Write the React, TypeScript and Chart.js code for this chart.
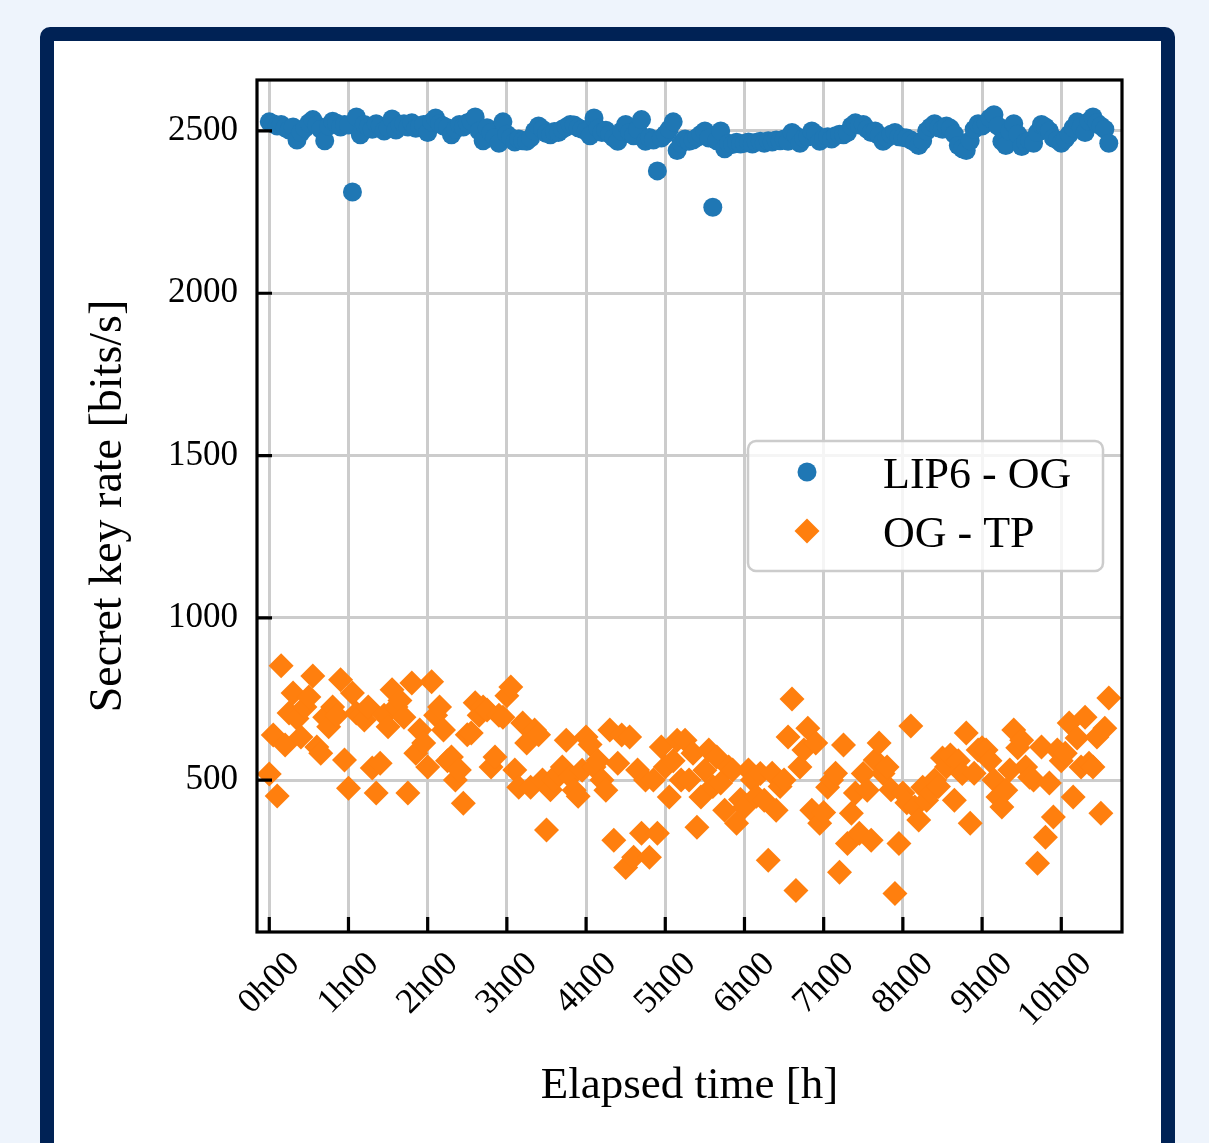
import React, { useEffect, useRef } from 'react';
import { Chart, registerables } from 'chart.js';

Chart.register(...registerables);

// Elapsed time of each measurement, in minutes
const timeMinutes = [
  0, 3, 6, 9, 12, 15, 18, 21, 24, 27, 30, 33, 36, 39, 42, 45, 48, 51, 54, 57,
  60, 63, 66, 69, 72, 75, 78, 81, 84, 87, 90, 93, 96, 99, 102, 105, 108, 111, 114, 117,
  120, 123, 126, 129, 132, 135, 138, 141, 144, 147, 150, 153, 156, 159, 162, 165, 168, 171, 174, 177,
  180, 183, 186, 189, 192, 195, 198, 201, 204, 207, 210, 213, 216, 219, 222, 225, 228, 231, 234, 237,
  240, 243, 246, 249, 252, 255, 258, 261, 264, 267, 270, 273, 276, 279, 282, 285, 288, 291, 294, 297,
  300, 303, 306, 309, 312, 315, 318, 321, 324, 327, 330, 333, 336, 339, 342, 345, 348, 351, 354, 357,
  360, 363, 366, 369, 372, 375, 378, 381, 384, 387, 390, 393, 396, 399, 402, 405, 408, 411, 414, 417,
  420, 423, 426, 429, 432, 435, 438, 441, 444, 447, 450, 453, 456, 459, 462, 465, 468, 471, 474, 477,
  480, 483, 486, 489, 492, 495, 498, 501, 504, 507, 510, 513, 516, 519, 522, 525, 528, 531, 534, 537,
  540, 543, 546, 549, 552, 555, 558, 561, 564, 567, 570, 573, 576, 579, 582, 585, 588, 591, 594, 597,
  600, 603, 606, 609, 612, 615, 618, 621, 624, 627, 630, 633, 636,
];

// Secret key rate LIP6 - OG [bits/s]
const lip6Og = [
  2528, 2522, 2515, 2520, 2510, 2503, 2512, 2472, 2495, 2508, 2525, 2535, 2518, 2505, 2470, 2515, 2530, 2524, 2512, 2520,
  2518, 2312, 2543, 2488, 2520, 2512, 2505, 2522, 2515, 2500, 2510, 2537, 2503, 2518, 2522, 2512, 2525, 2508, 2515, 2520,
  2495, 2528, 2540, 2522, 2515, 2510, 2488, 2505, 2520, 2512, 2525, 2530, 2543, 2500, 2470, 2510, 2495, 2480, 2462, 2528,
  2490, 2480, 2466, 2475, 2470, 2468, 2478, 2500, 2515, 2505, 2492, 2488, 2498, 2495, 2505, 2512, 2520, 2518, 2510, 2505,
  2500, 2485, 2540, 2508, 2495, 2502, 2490, 2478, 2468, 2500, 2520, 2495, 2485, 2505, 2535, 2468, 2480, 2472, 2377, 2478,
  2490, 2505, 2528, 2440, 2462, 2475, 2468, 2472, 2480, 2490, 2500, 2478, 2265, 2470, 2500, 2445, 2462, 2458, 2465, 2460,
  2462, 2466, 2460, 2465, 2468, 2462, 2470, 2466, 2472, 2470, 2475, 2468, 2495, 2485, 2462, 2478, 2482, 2500, 2490, 2468,
  2478, 2482, 2475, 2485, 2490, 2488, 2495, 2515, 2525, 2518, 2520, 2505, 2495, 2500, 2485, 2468, 2478, 2490, 2495, 2482,
  2480, 2478, 2472, 2465, 2455, 2470, 2500, 2512, 2522, 2510, 2505, 2515, 2508, 2490, 2455, 2445, 2440, 2470, 2505, 2522,
  2515, 2525, 2540, 2550, 2515, 2468, 2455, 2500, 2522, 2490, 2452, 2465, 2470, 2462, 2495, 2520, 2512, 2500, 2478, 2472,
  2462, 2475, 2490, 2510, 2528, 2512, 2495, 2530, 2543, 2525, 2515, 2505, 2462,
];

// Secret key rate OG - TP [bits/s]
const ogTp = [
  519, 639, 451, 852, 608, 707, 768, 690, 633, 725, 756, 821, 602, 583, 694, 664, 725, 700, 809, 562,
  475, 768, 707, 700, 685, 725, 537, 460, 552, 700, 664, 778, 725, 745, 694, 460, 799, 583, 654, 614,
  540, 803, 700, 725, 654, 560, 571, 500, 531, 429, 640, 645, 738, 700, 725, 716, 540, 571, 700, 694,
  760, 787, 531, 478, 676, 614, 478, 654, 640, 500, 346, 470, 500, 521, 540, 623, 510, 469, 450, 530,
  633, 610, 540, 560, 500, 469, 654, 315, 552, 639, 231, 633, 262, 531, 336, 500, 262, 500, 336, 602,
  540, 448, 560, 623, 500, 623, 500, 583, 355, 448, 530, 593, 480, 571, 491, 407, 540, 531, 367, 440,
  417, 531, 500, 450, 520, 438, 253, 521, 407, 480, 500, 633, 750, 160, 540, 593, 660, 407, 614, 367,
  400, 478, 500, 521, 216, 608, 305, 398, 460, 336, 520, 469, 315, 562, 614, 520, 540, 470, 151, 305,
  460, 430, 667, 417, 377, 478, 438, 460, 500, 480, 568, 540, 577, 438, 560, 520, 645, 367, 521, 593,
  600, 593, 560, 500, 448, 417, 469, 531, 654, 600, 623, 540, 509, 500, 244, 602, 324, 491, 386, 593,
  560, 583, 676, 448, 630, 540, 694, 552, 540, 633, 398, 660, 753,
];

const seriesLabels = ['LIP6 - OG', 'OG - TP'];
const seriesColors = ['#1f77b4', '#ff7f0e'];

const xTickValues = [0, 60, 120, 180, 240, 300, 360, 420, 480, 540, 600];
const xTickLabels = ['0h00', '1h00', '2h00', '3h00', '4h00', '5h00', '6h00', '7h00', '8h00', '9h00', '10h00'];
const yTickValues = [500, 1000, 1500, 2000, 2500];
const yTickLabels = ['500', '1000', '1500', '2000', '2500'];

const xTitle = 'Elapsed time [h]';
const yTitle = 'Secret key rate [bits/s]';

const FONT = '"Liberation Serif", "Times New Roman", serif';

const framePlugin = {
  id: 'frameTicksLegend',
  afterDraw(chart: any) {
    const { ctx, chartArea: a, scales } = chart;
    ctx.save();
    // inward tick marks
    ctx.strokeStyle = '#000000';
    ctx.lineWidth = 3.2;
    ctx.lineCap = 'butt';
    ctx.beginPath();
    for (const v of xTickValues) {
      const px = scales.x.getPixelForValue(v);
      ctx.moveTo(px, a.bottom);
      ctx.lineTo(px, a.bottom - 15);
    }
    for (const v of yTickValues) {
      const py = scales.y.getPixelForValue(v);
      ctx.moveTo(a.left, py);
      ctx.lineTo(a.left + 15, py);
    }
    ctx.stroke();
    // axes frame
    ctx.lineWidth = 3.2;
    ctx.strokeRect(a.left, a.top, a.right - a.left, a.bottom - a.top);

    // legend
    const lx = 748, ly = 441, lw = 355, lh = 130, r = 8;
    ctx.beginPath();
    ctx.moveTo(lx + r, ly);
    ctx.lineTo(lx + lw - r, ly);
    ctx.arcTo(lx + lw, ly, lx + lw, ly + r, r);
    ctx.lineTo(lx + lw, ly + lh - r);
    ctx.arcTo(lx + lw, ly + lh, lx + lw - r, ly + lh, r);
    ctx.lineTo(lx + r, ly + lh);
    ctx.arcTo(lx, ly + lh, lx, ly + lh - r, r);
    ctx.lineTo(lx, ly + r);
    ctx.arcTo(lx, ly, lx + r, ly, r);
    ctx.closePath();
    ctx.fillStyle = 'rgba(255,255,255,0.8)';
    ctx.fill();
    ctx.strokeStyle = '#cccccc';
    ctx.lineWidth = 2.5;
    ctx.stroke();

    const ds = chart.data.datasets;
    const rows = [472, 531];
    ds.forEach((d: any, i: number) => {
      const cy = rows[i];
      const cx = 807;
      ctx.fillStyle = d.backgroundColor;
      ctx.beginPath();
      if (d.pointStyle === 'circle') {
        ctx.arc(cx, cy, 9.5, 0, Math.PI * 2);
      } else {
        const rr = 12.5;
        ctx.moveTo(cx - rr, cy);
        ctx.lineTo(cx, cy - rr);
        ctx.lineTo(cx + rr, cy);
        ctx.lineTo(cx, cy + rr);
        ctx.closePath();
      }
      ctx.fill();
      ctx.fillStyle = '#000000';
      ctx.font = `44px ${FONT}`;
      ctx.textAlign = 'left';
      ctx.textBaseline = 'alphabetic';
      ctx.fillText(d.label, 883, cy + 16);
    });
    ctx.restore();
  },
};

export default function App() {
  const ref = useRef<HTMLCanvasElement>(null);

  useEffect(() => {
    if (!ref.current) return;
    const chart = new Chart(ref.current, {
      type: 'scatter',
      data: {
        datasets: [
          {
            label: seriesLabels[0],
            data: timeMinutes.map((t, i) => ({ x: t, y: lip6Og[i] })),
            backgroundColor: seriesColors[0],
            borderWidth: 0,
            pointStyle: 'circle',
            pointRadius: 9.5,
          },
          {
            label: seriesLabels[1],
            data: timeMinutes.map((t, i) => ({ x: t, y: ogTp[i] })),
            backgroundColor: seriesColors[1],
            borderWidth: 0,
            pointStyle: 'rectRot',
            pointRadius: 12.5,
          },
        ],
      },
      options: {
        responsive: false,
        animation: false,
        events: [],
        layout: { padding: { left: 0, top: 80, right: 87, bottom: 0 } },
        plugins: {
          legend: { display: false },
          tooltip: { enabled: false },
        },
        scales: {
          x: {
            type: 'linear',
            min: -9.3,
            max: 646,
            afterBuildTicks: (s: any) => {
              s.ticks = xTickValues.map((v) => ({ value: v }));
            },
            afterFit: (s: any) => {
              s.height = 211;
              s.paddingLeft = 0;
              s.paddingRight = 0;
            },
            grid: { color: '#cccccc', lineWidth: 3, drawTicks: false },
            border: { display: false },
            ticks: {
              autoSkip: false,
              minRotation: 45,
              maxRotation: 45,
              padding: 12,
              labelOffset: 25,
              color: '#000000',
              font: { family: FONT, size: 35 },
              callback: (_v: any, i: number) => xTickLabels[i],
            },
            title: {
              display: true,
              text: xTitle,
              color: '#000000',
              font: { family: FONT, size: 45 },
              padding: { top: 0, bottom: 30 },
            },
          },
          y: {
            type: 'linear',
            min: 32,
            max: 2657,
            afterBuildTicks: (s: any) => {
              s.ticks = yTickValues.map((v) => ({ value: v }));
            },
            afterFit: (s: any) => {
              s.width = 257;
              s.paddingTop = 0;
              s.paddingBottom = 0;
            },
            grid: { color: '#cccccc', lineWidth: 3, drawTicks: false },
            border: { display: false },
            ticks: {
              padding: 19,
              color: '#000000',
              font: { family: FONT, size: 35 },
              callback: (_v: any, i: number) => yTickLabels[i],
            },
            title: {
              display: true,
              text: yTitle,
              color: '#000000',
              font: { family: FONT, size: 46 },
              padding: { top: 81, bottom: 0 },
            },
          },
        },
      },
      plugins: [framePlugin],
    } as any);
    return () => chart.destroy();
  }, []);

  return (
    <div style={{ position: 'fixed', inset: 0, background: '#eef4fc', overflow: 'hidden' }}>
      <div
        style={{
          position: 'absolute',
          left: 40,
          top: 27,
          width: 1135,
          height: 1200,
          boxSizing: 'border-box',
          border: '14px solid #002255',
          borderRadius: 10,
          background: '#ffffff',
        }}
      />
      <canvas
        ref={ref}
        width={1209}
        height={1143}
        style={{ position: 'absolute', left: 0, top: 0, width: 1209, height: 1143 }}
      />
    </div>
  );
}
